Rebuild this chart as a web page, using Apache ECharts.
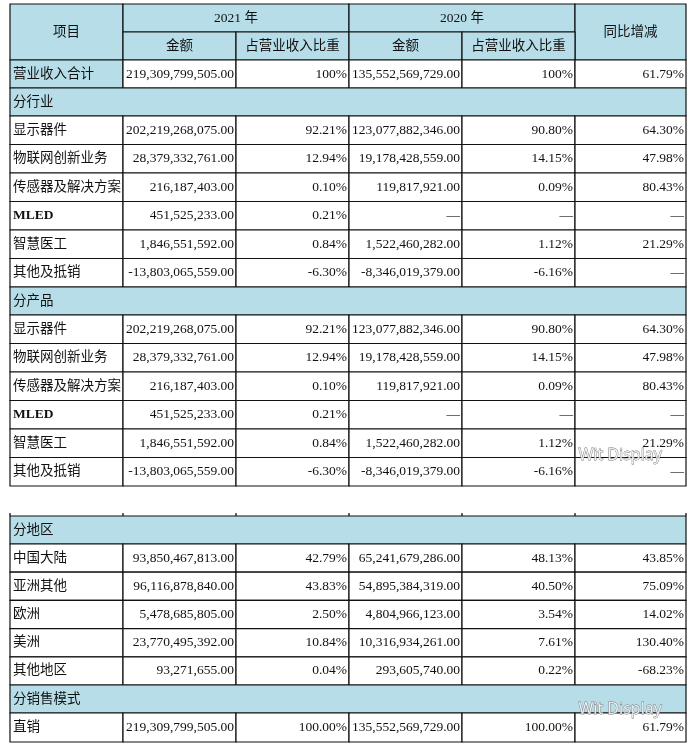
<!DOCTYPE html>
<html><head><meta charset="utf-8">
<script src="https://cdn.jsdelivr.net/npm/echarts@6/dist/echarts.min.js"></script>
<style>html,body{margin:0;padding:0;background:#fff}#c{width:688px;height:745px}</style>
</head><body><div id="c"></div>
<script>
const headerYear = ['2021 年', '2020 年'];
const headerSub = ['金额', '占营业收入比重'];
const headerItem = '项目', headerYoy = '同比增减';
const totalRow = ['营业收入合计', '219,309,799,505.00', '100%', '135,552,569,729.00', '100%', '61.79%'];
const sectionIndustry = '分行业';
const sectionProduct = '分产品';
const segNames = ['显示器件', '物联网创新业务', '传感器及解决方案', 'MLED', '智慧医工', '其他及抵销'];
const seg2021Amt = ['202,219,268,075.00', '28,379,332,761.00', '216,187,403.00', '451,525,233.00', '1,846,551,592.00', '-13,803,065,559.00'];
const seg2021Pct = ['92.21%', '12.94%', '0.10%', '0.21%', '0.84%', '-6.30%'];
const seg2020Amt = ['123,077,882,346.00', '19,178,428,559.00', '119,817,921.00', '—', '1,522,460,282.00', '-8,346,019,379.00'];
const seg2020Pct = ['90.80%', '14.15%', '0.09%', '—', '1.12%', '-6.16%'];
const segYoy = ['64.30%', '47.98%', '80.43%', '—', '21.29%', '—'];
const sectionRegion = '分地区';
const regNames = ['中国大陆', '亚洲其他', '欧洲', '美洲', '其他地区'];
const reg2021Amt = ['93,850,467,813.00', '96,116,878,840.00', '5,478,685,805.00', '23,770,495,392.00', '93,271,655.00'];
const reg2021Pct = ['42.79%', '43.83%', '2.50%', '10.84%', '0.04%'];
const reg2020Amt = ['65,241,679,286.00', '54,895,384,319.00', '4,804,966,123.00', '10,316,934,261.00', '293,605,740.00'];
const reg2020Pct = ['48.13%', '40.50%', '3.54%', '7.61%', '0.22%'];
const regYoy = ['43.85%', '75.09%', '14.02%', '130.40%', '-68.23%'];
const sectionSales = '分销售模式';
const salesRow = ['直销', '219,309,799,505.00', '100.00%', '135,552,569,729.00', '100.00%', '61.79%'];
const watermark = 'Wit Display';

const X = [10, 123, 236, 349, 462, 575, 686];
const BLUE = '#b7dee8';
const cells = [];
function addRow(y0, y1, vals, firstFill) {
  for (let i = 0; i < 6; i++) cells.push([X[i], y0, X[i+1], y1, vals[i], i === 0 ? 'left' : 'right', i === 0 && firstFill ? BLUE : '#fff']);
}
function addSection(y0, y1, t) { cells.push([X[0], y0, X[6], y1, t, 'left', BLUE]); }
cells.push([X[0], 4, X[1], 60, headerItem, 'center', BLUE]);
cells.push([X[1], 4, X[3], 32, headerYear[0], 'center', BLUE]);
cells.push([X[3], 4, X[5], 32, headerYear[1], 'center', BLUE]);
cells.push([X[5], 4, X[6], 60, headerYoy, 'center', BLUE]);
for (let k = 0; k < 4; k++) cells.push([X[1+k], 32, X[2+k], 60, headerSub[k % 2], 'center', BLUE]);
addRow(60, 88, totalRow, true);
let y = 88; const rh = 28.5;
[sectionIndustry, sectionProduct].forEach(s => {
  addSection(y, y + 28, s); y += 28;
  for (let i = 0; i < segNames.length; i++) {
    addRow(y, y + rh, [segNames[i], seg2021Amt[i], seg2021Pct[i], seg2020Amt[i], seg2020Pct[i], segYoy[i]], false); y += rh;
  }
});
const stubs = X.map(x => [x, 513, x, 516, '', 'left', 'none']);
let y2 = 516;
addSection(y2, 544, sectionRegion); y2 = 544;
for (let i = 0; i < regNames.length; i++) {
  addRow(y2, y2 + 28.2, [regNames[i], reg2021Amt[i], reg2021Pct[i], reg2020Amt[i], reg2020Pct[i], regYoy[i]], false); y2 += 28.2;
}
addSection(y2, y2 + 28, sectionSales); y2 += 28;
addRow(y2, 742, salesRow, false);
const all = cells.concat(stubs);

const FONT = '"Liberation Serif","Noto Sans CJK SC",serif';
const chart = echarts.init(document.getElementById('c'));
chart.setOption({
  animation: false,
  grid: {left: 0, right: 0, top: 0, bottom: 0},
  xAxis: {type: 'value', min: 0, max: 688, show: false},
  yAxis: {type: 'value', min: 0, max: 745, inverse: true, show: false},
  series: [{
    type: 'custom',
    data: all,
    renderItem: function (params, api) {
      const c = all[params.dataIndex];
      const p0 = api.coord([c[0], c[1]]), p1 = api.coord([c[2], c[3]]);
      if (c[6] === 'none') return {type: 'line', shape: {x1: p0[0], y1: p0[1], x2: p1[0], y2: p1[1]}, style: {stroke: '#000', lineWidth: 1.2}};
      const w = p1[0] - p0[0], h = p1[1] - p0[1];
      const tx = c[5] === 'left' ? p0[0] + 3 : c[5] === 'right' ? p1[0] - 2 : p0[0] + w / 2;
      const bold = c[4] === 'MLED' ? 'bold ' : '';
      return {type: 'group', children: [
        {type: 'rect', shape: {x: p0[0], y: p0[1], width: w, height: h}, style: {fill: c[6], stroke: '#111', lineWidth: 1.2}},
        {type: 'text', style: {x: tx, y: p0[1] + h / 2, text: c[4], align: c[5], verticalAlign: 'middle', font: bold + '13.5px ' + FONT, fill: '#111'}}
      ]};
    }
  }],
  graphic: [
    {type: 'text', z: 100, left: 578, top: 447, style: {text: watermark, font: '16px "Noto Sans"', fill: 'rgba(255,255,255,0.8)', stroke: '#777', lineWidth: 0.8}},
    {type: 'text', z: 100, left: 578, top: 701, style: {text: watermark, font: '16px "Noto Sans"', fill: 'rgba(255,255,255,0.8)', stroke: '#777', lineWidth: 0.8}}
  ]
});
</script></body></html>
